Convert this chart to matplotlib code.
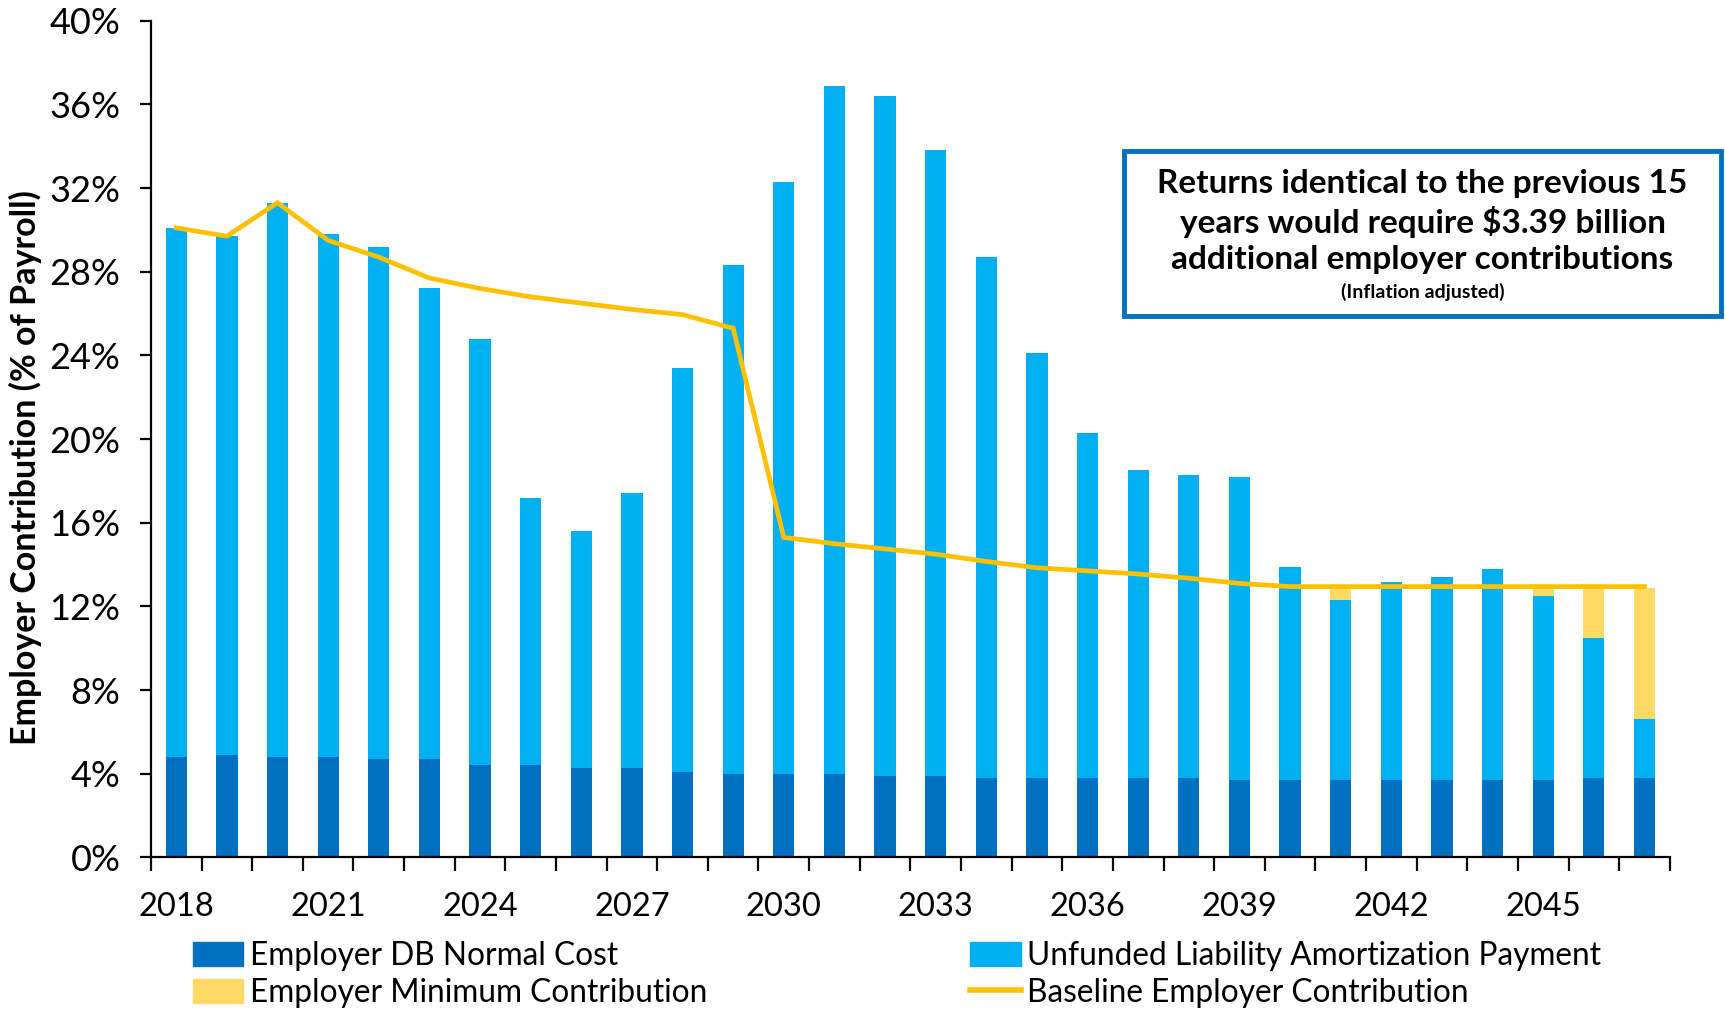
import numpy as np
import matplotlib.pyplot as plt
from matplotlib.patches import Patch, Rectangle
from matplotlib.lines import Line2D
from matplotlib.ticker import FixedLocator, FuncFormatter

plt.rcParams["font.family"] = ["Lato", "DejaVu Sans"]

# Datos (% de la nómina)
years = list(range(2018, 2048))
normal_cost = [4.8, 4.9, 4.8, 4.8, 4.7, 4.7, 4.4, 4.4, 4.3, 4.3,
               4.1, 4.0, 4.0, 4.0, 3.9, 3.9, 3.8, 3.8, 3.8, 3.8,
               3.8, 3.7, 3.7, 3.7, 3.7, 3.7, 3.7, 3.7, 3.8, 3.8]
amortization = [25.3, 24.8, 26.5, 25.0, 24.5, 22.5, 20.4, 12.8, 11.3, 13.1,
                19.3, 24.3, 28.3, 32.9, 32.5, 29.9, 24.9, 20.3, 16.5, 14.7,
                14.5, 14.5, 10.2, 8.6, 9.45, 9.7, 10.1, 8.8, 6.7, 2.8]
minimum_contrib = [0, 0, 0, 0, 0, 0, 0, 0, 0, 0,
                   0, 0, 0, 0, 0, 0, 0, 0, 0, 0,
                   0, 0, 0, 0.6, 0, 0, 0, 0.4, 2.4, 6.3]
baseline = [30.1, 29.7, 31.3, 29.5, 28.7, 27.7, 27.2, 26.8, 26.5, 26.2,
            25.95, 25.3, 15.3, 15.0, 14.75, 14.5, 14.15, 13.85, 13.7, 13.55,
            13.35, 13.1, 12.95, 12.95, 12.95, 12.95, 12.95, 12.95, 12.95, 12.95]

dark_blue = "#0070C0"
light_blue = "#00B0F0"
light_gold = "#FFD966"
gold = "#FFC000"

fig = plt.figure(figsize=(17.25, 10.1), dpi=100)
ax = fig.add_axes([0.0875, 0.151, 0.8805, 0.8285])

x = np.arange(len(years))
nc = np.array(normal_cost)
am = np.array(amortization)
mc = np.array(minimum_contrib)
bw = 0.42

ax.bar(x, nc, width=bw, color=dark_blue, zorder=2)
ax.bar(x, am, width=bw, bottom=nc, color=light_blue, zorder=2)
ax.bar(x, mc, width=bw, bottom=nc + am, color=light_gold, zorder=2)
ax.plot(x, baseline, color=gold, linewidth=3.4, zorder=3, solid_joinstyle="miter")

ax.set_xlim(-0.5, len(years) - 0.5)
ax.set_ylim(0, 40)

# Ejes estilo Excel
for s in ["top", "right"]:
    ax.spines[s].set_visible(False)
for s in ["left", "bottom"]:
    ax.spines[s].set_linewidth(1.6)

ax.yaxis.set_major_locator(FixedLocator(np.arange(0, 41, 4)))
ax.yaxis.set_major_formatter(FuncFormatter(lambda v, p: f"{v:.0f}%"))
ax.tick_params(axis="y", labelsize=26, length=8, width=1.6, pad=14)

# Marcas entre categorías y etiquetas cada 3 años
ax.set_xticks(np.arange(-0.5, len(years), 1.0))
ax.set_xticklabels([])
ax.tick_params(axis="x", which="major", length=10, width=1.6)
label_pos = np.arange(0, len(years), 3)
ax.set_xticks(label_pos, minor=True)
ax.set_xticklabels([str(years[i]) for i in label_pos], minor=True)
ax.tick_params(axis="x", which="minor", length=0, labelsize=23.5, pad=25)

fig.text(0.015, 0.537, "Employer Contribution (% of Payroll)", rotation=90,
         ha="center", va="center", fontsize=24.5, fontweight="bold")

# Cuadro de texto
box = Rectangle((1124 / 1725, 1 - 316 / 1010), 597 / 1725, 165 / 1010,
                transform=fig.transFigure, facecolor="white",
                edgecolor=dark_blue, linewidth=3.5, zorder=5)
fig.patches.append(box)
cx = (1124 + 597 / 2) / 1725
lines = ["Returns identical to the previous 15",
         "years would require $3.39 billion",
         "additional employer contributions"]
for i, t in enumerate(lines):
    fig.text(cx, 1 - (184 + 38 * i) / 1010, t, ha="center", va="center",
             fontsize=24, fontweight="bold", zorder=6)
fig.text(cx, 1 - 292 / 1010, "(Inflation adjusted)", ha="center", va="center",
         fontsize=14, fontweight="bold", zorder=6)

# Leyenda
h1 = [Patch(color=dark_blue, label="Employer DB Normal Cost"),
      Patch(color=light_gold, label="Employer Minimum Contribution")]
h2 = [Patch(color=light_blue, label="Unfunded Liability Amortization Payment"),
      Line2D([0], [0], color=gold, linewidth=4, label="Baseline Employer Contribution")]
for hs, xa in [(h1, 0.1116), (h2, 0.5623)]:
    fig.legend(handles=hs, loc="upper left", bbox_to_anchor=(xa, 0.068),
               frameon=False, fontsize=22.8, handlelength=1.6, handleheight=0.8,
               handletextpad=0.2, labelspacing=0.2, borderaxespad=0, borderpad=0)

fig.savefig("out.png", dpi=100)
